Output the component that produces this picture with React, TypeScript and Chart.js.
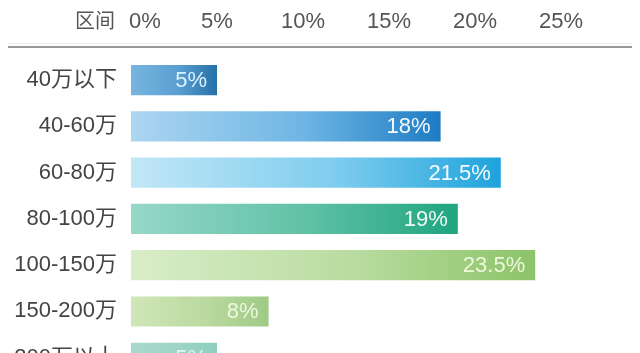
import React, { useEffect, useRef } from "react";
import { Chart, registerables } from "chart.js";

Chart.register(...registerables);

const categories = ["40万以下", "40-60万", "60-80万", "80-100万", "100-150万", "150-200万", "200万以上"];
const shares = [5, 18, 21.5, 19, 23.5, 8, 5];
const tickValues = [0, 5, 10, 15, 20, 25];
const tickLabels = ["0%", "5%", "10%", "15%", "20%", "25%"];
const headerTitle = "区间";

const gradientStarts = ["#78b5df", "#acd6f1", "#c2e7f7", "#97d8c8", "#d9edc8", "#d0e6b8", "#a9d9cc"];
const gradientMids = ["#5a9fd2", "#6fb6e4", "#7fcdee", "#5fc0a4", "#b9dca0", "#bad99f", "#9dd4c6"];
const gradientEnds = ["#2670a8", "#1e7cc3", "#1ea3dc", "#1fa57f", "#8cc468", "#9ecb86", "#8ccfbe"];
const labelColors = ["#dcf3ff", "#f4faff", "#f4fbff", "#eefaf4", "#eef8dc", "#edf7de", "#e4f4ee"];

const FONT = '"Liberation Sans", "Noto Sans CJK SC", sans-serif';
const H = 408;

export default function App() {
  const ref = useRef<HTMLCanvasElement | null>(null);

  useEffect(() => {
    if (!ref.current) return;

    const headerPlugin = {
      id: "header",
      afterDraw(chart: any) {
        const ctx = chart.ctx;
        const xs = chart.scales.x;
        ctx.save();
        ctx.strokeStyle = "#eeeeee";
        ctx.lineWidth = 1;
        ctx.beginPath();
        ctx.moveTo(8, 43.5);
        ctx.lineTo(632, 43.5);
        ctx.stroke();
        ctx.strokeStyle = "#999999";
        ctx.lineWidth = 2;
        ctx.beginPath();
        ctx.moveTo(8, 47);
        ctx.lineTo(632, 47);
        ctx.stroke();

        ctx.fillStyle = "#555555";
        ctx.textBaseline = "alphabetic";
        ctx.font = "20px " + FONT;
        ctx.textAlign = "right";
        ctx.fillText(headerTitle, 115, 28);

        ctx.font = "22px " + FONT;
        tickValues.forEach((v, i) => {
          const px = xs.getPixelForValue(v);
          if (i === 0) {
            ctx.textAlign = "left";
            ctx.fillText(tickLabels[i], px - 2, 28);
          } else {
            ctx.textAlign = "center";
            ctx.fillText(tickLabels[i], px, 28);
          }
        });
        ctx.restore();
      },
    };

    const valueLabelPlugin = {
      id: "valueLabels",
      afterDatasetsDraw(chart: any) {
        const ctx = chart.ctx;
        const meta = chart.getDatasetMeta(0);
        ctx.save();
        ctx.font = "22px " + FONT;
        ctx.textAlign = "right";
        ctx.textBaseline = "middle";
        meta.data.forEach((bar: any, i: number) => {
          ctx.fillStyle = labelColors[i];
          ctx.fillText(shares[i] + "%", bar.x - 10, bar.y + 1);
        });
        ctx.restore();
      },
    };

    const chart = new Chart(ref.current, {
      type: "bar",
      data: {
        labels: categories,
        datasets: [
          {
            data: shares,
            borderWidth: 0,
            barPercentage: 0.65,
            categoryPercentage: 1,
            backgroundColor: (c: any) => {
              const ch = c.chart;
              const area = ch.chartArea;
              const i = c.dataIndex;
              if (!area || i === undefined) return gradientEnds[i ?? 0];
              const x0 = area.left;
              const x1 = ch.scales.x.getPixelForValue(shares[i]);
              const g = ch.ctx.createLinearGradient(x0, 0, x1, 0);
              g.addColorStop(0, gradientStarts[i]);
              g.addColorStop(0.55, gradientMids[i]);
              g.addColorStop(1, gradientEnds[i]);
              return g;
            },
          },
        ],
      },
      options: {
        indexAxis: "y",
        animation: false,
        responsive: false,
        maintainAspectRatio: false,
        layout: { padding: { top: 57, bottom: 11, left: 0, right: 79 } },
        plugins: { legend: { display: false }, tooltip: { enabled: false } },
        scales: {
          x: { display: false, min: 0, max: 25 },
          y: {
            grid: { display: false, drawTicks: false },
            border: { display: false },
            afterFit: (s: any) => {
              s.width = 131;
            },
            ticks: {
              padding: 14,
              color: "#444444",
              font: { size: 22, family: FONT },
            },
          },
        },
      },
      plugins: [headerPlugin, valueLabelPlugin],
    } as any);

    return () => chart.destroy();
  }, []);

  return (
    <div style={{ position: "fixed", left: 0, top: 0, width: 640, height: H, background: "#fff" }}>
      <canvas ref={ref} width={640} height={H} style={{ width: 640, height: H, display: "block" }} />
    </div>
  );
}
